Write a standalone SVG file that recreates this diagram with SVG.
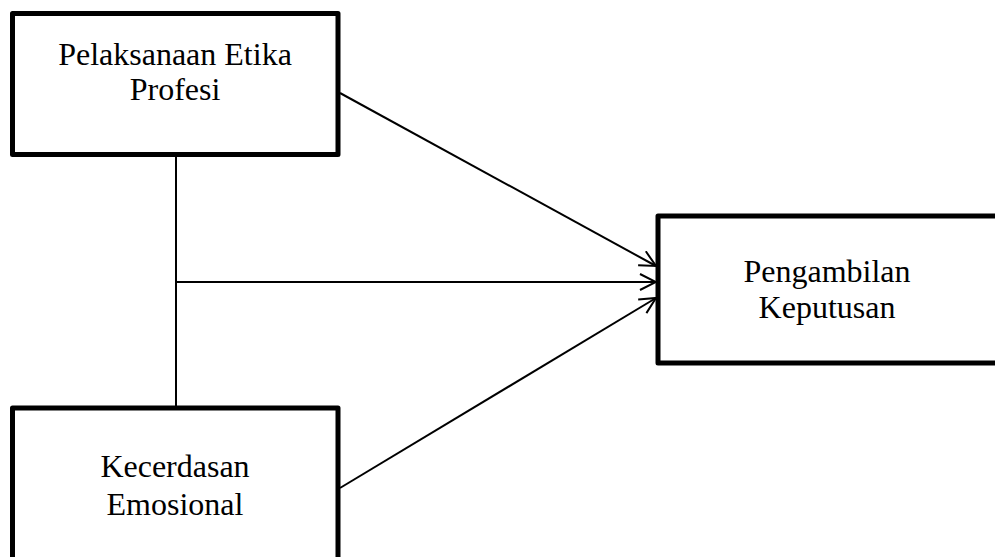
<svg xmlns="http://www.w3.org/2000/svg" width="995" height="557" viewBox="0 0 995 557">
<style>
.box{fill:#fff;stroke:#000;stroke-width:5;stroke-linejoin:round}
.lbl{font-family:"Liberation Serif","Times New Roman",serif;font-size:32px;fill:#000;text-anchor:middle}
.con{fill:none;stroke:#000;stroke-width:2}
</style>
<defs>
<marker id="ah" viewBox="0 0 18 18" refX="17" refY="9" markerWidth="18" markerHeight="18" markerUnits="userSpaceOnUse" orient="auto">
<path d="M1,1 L17,9 L1,17" fill="none" stroke="#000" stroke-width="2"/>
</marker>
</defs>
<rect width="995" height="557" fill="#fff"/>
<g id="connectors">
<line class="con" x1="176" y1="156" x2="176" y2="406"/>
<line class="con" x1="340" y1="93" x2="656" y2="266" marker-end="url(#ah)"/>
<line class="con" x1="176" y1="282" x2="656" y2="282" marker-end="url(#ah)"/>
<line class="con" x1="340" y1="488" x2="656" y2="298" marker-end="url(#ah)"/>
</g>
<g id="node1">
<rect class="box" x="12.5" y="13.5" width="325.5" height="141"/>
<text class="lbl" x="175" y="65">Pelaksanaan Etika</text>
<text class="lbl" x="175" y="100">Profesi</text>
</g>
<g id="node2">
<rect class="box" x="12.5" y="408" width="325.5" height="160"/>
<text class="lbl" x="175" y="477">Kecerdasan</text>
<text class="lbl" x="175" y="515">Emosional</text>
</g>
<g id="node3">
<rect class="box" x="658" y="216" width="360" height="147"/>
<text class="lbl" x="827" y="282">Pengambilan</text>
<text class="lbl" x="827" y="318">Keputusan</text>
</g>
</svg>
